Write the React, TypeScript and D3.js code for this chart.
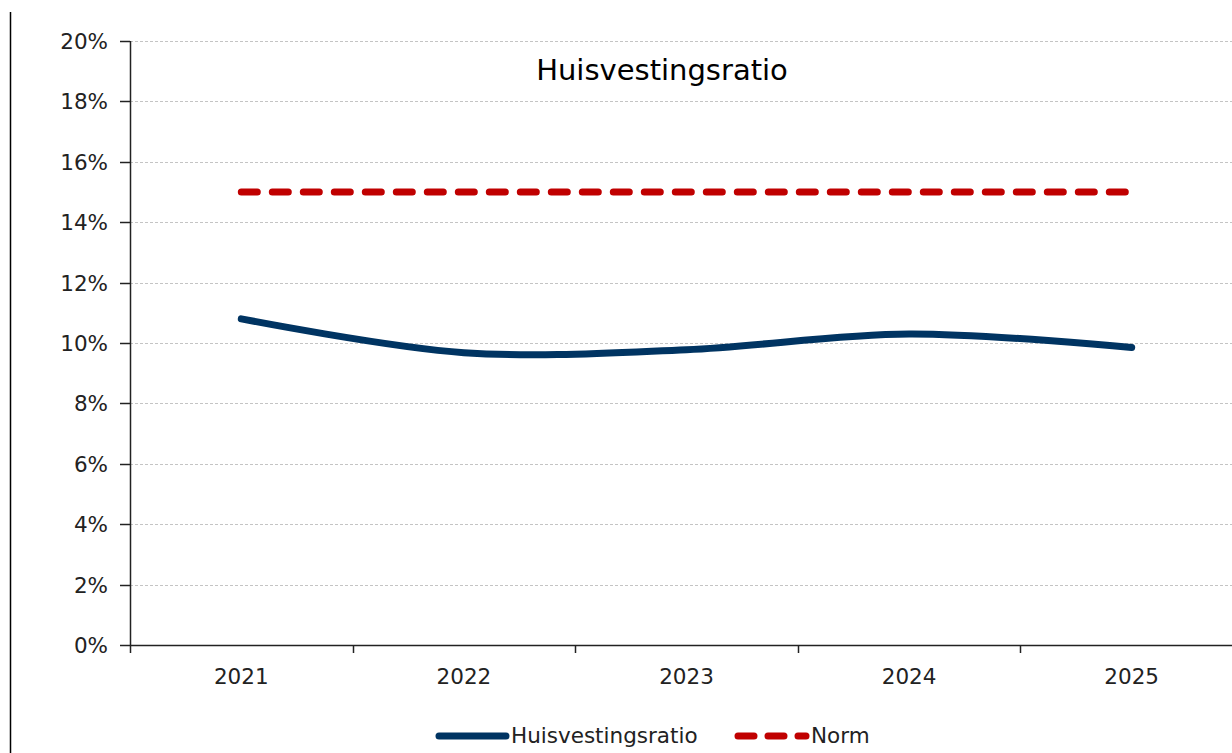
import React from 'react'
import * as d3 from 'd3'

// data
const years = ['2021', '2022', '2023', '2024', '2025']
const ratio = [10.8, 9.68, 9.78, 10.3, 9.85]
const norm = [15, 15, 15, 15, 15]
const yTicks = [0, 2, 4, 6, 8, 10, 12, 14, 16, 18, 20]

const W = 1232
const H = 753
const font = '"DejaVu Sans", Verdana, sans-serif'
const navy = '#003462'
const red = '#c00000'

const App = () => {
  const x = d3.scaleBand().domain(years).range([130, 1243])
  const y = d3.scaleLinear().domain([0, 20]).range([645, 41])
  const cx = (d) => x(d) + x.bandwidth() / 2

  const smooth = d3.line().x((d, i) => cx(years[i])).y(d => y(d)).curve(d3.curveCatmullRom.alpha(0.5))
  const straight = d3.line().x((d, i) => cx(years[i])).y(d => y(d))

  const bounds = years.map(d => x(d)).concat([x.range()[1]])

  return (
    <div style={{ position: 'absolute', left: 0, top: 0 }}>
      <svg width={W} height={H} style={{ display: 'block', background: '#fff' }}>
        {/* left frame line */}
        <line x1={10.5} x2={10.5} y1={12} y2={H} stroke="#000" strokeWidth={1.5} />

        {/* grid */}
        {yTicks.slice(1).map(t => (
          <line key={t} x1={130} x2={W} y1={Math.round(y(t)) + 0.5} y2={Math.round(y(t)) + 0.5}
            stroke="#c4c4c4" strokeWidth={1} strokeDasharray="3 2" />
        ))}

        {/* y axis */}
        <line x1={130.5} x2={130.5} y1={41} y2={645} stroke="#222" strokeWidth={1.5} />
        {yTicks.map(t => (
          <g key={t} transform={`translate(0,${Math.round(y(t)) + 0.5})`}>
            <line x1={120} x2={130} stroke="#222" strokeWidth={1.5} />
            <text x={108} dy="0.36em" textAnchor="end" fontFamily={font} fontSize={21.5} fill="#222">{t}%</text>
          </g>
        ))}

        {/* x axis */}
        <line x1={130} x2={W} y1={645.5} y2={645.5} stroke="#222" strokeWidth={1.5} />
        {bounds.map((b, i) => (
          <line key={i} x1={Math.round(b) + 0.5} x2={Math.round(b) + 0.5} y1={645} y2={653} stroke="#222" strokeWidth={1.5} />
        ))}
        {years.map(d => (
          <text key={d} x={cx(d)} y={684} textAnchor="middle" fontFamily={font} fontSize={21.5} fill="#222">{d}</text>
        ))}

        {/* title */}
        <text x={662} y={80} textAnchor="middle" fontFamily={font} fontSize={29} fill="#000">Huisvestingsratio</text>

        {/* series */}
        <path d={straight(norm)} fill="none" stroke={red} strokeWidth={7} strokeLinecap="round" strokeDasharray="16 15" />
        <path d={smooth(ratio)} fill="none" stroke={navy} strokeWidth={7} strokeLinecap="round" />

        {/* legend */}
        <line x1={439} x2={506} y1={736} y2={736} stroke={navy} strokeWidth={7} strokeLinecap="round" />
        <text x={511} y={743} fontFamily={font} fontSize={21.5} fill="#222">Huisvestingsratio</text>
        <line x1={738} x2={806} y1={736} y2={736} stroke={red} strokeWidth={7} strokeLinecap="round" strokeDasharray="16 14" />
        <text x={811} y={743} fontFamily={font} fontSize={21.5} fill="#222">Norm</text>
      </svg>
    </div>
  )
}

export default App
